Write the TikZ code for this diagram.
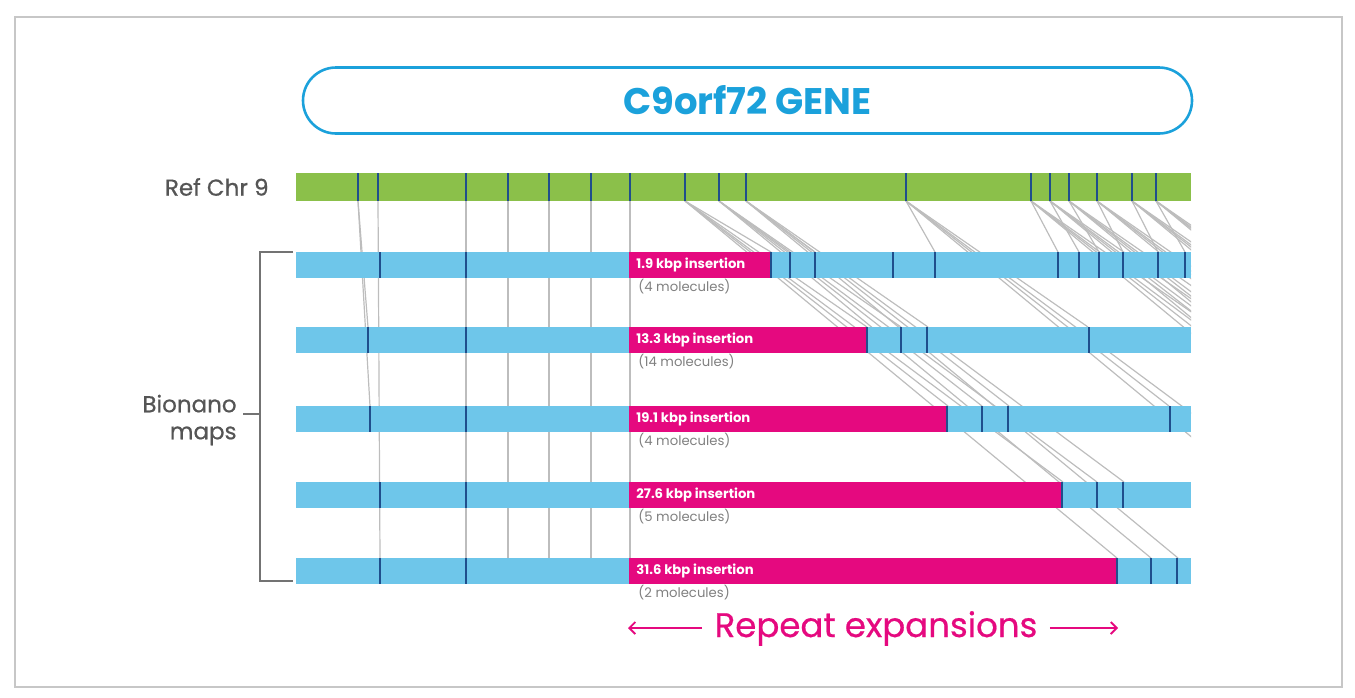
\documentclass[tikz,border=0pt]{standalone}
\usepackage{fontspec}
\setmainfont{Poppins}
\newfontfamily\medfont[FakeBold=0.6]{Poppins}
\usetikzlibrary{arrows.meta}

\definecolor{refgreen}{HTML}{8BC04A}
\definecolor{mapblue}{HTML}{6EC6EA}
\definecolor{tickblue}{HTML}{1F4E8C}
\definecolor{insertpink}{HTML}{E5097F}
\definecolor{titleblue}{HTML}{1BA1DB}
\definecolor{labelgray}{HTML}{555555}
\definecolor{aligngray}{HTML}{BDBDBD}

\tikzset{
    titlebox/.style={draw=titleblue, line width=1.3pt, rounded corners=16.5pt,
        minimum width=444.5pt, minimum height=33pt, text=titleblue,
        font=\bfseries\fontsize{18.5}{20}\selectfont},
    tickmark/.style={draw=tickblue, line width=1pt},
    alignline/.style={draw=aligngray, line width=0.6pt},
    bracket/.style={draw=black!55, line width=0.8pt},
    namelabel/.style={text=labelgray, font=\medfont\fontsize{11.5}{13.5}\selectfont, inner sep=0pt},
    insertlabel/.style={anchor=west, text=white, font=\bfseries\fontsize{6.6}{7}\selectfont, inner sep=0pt},
    countlabel/.style={anchor=west, text=black!50, font=\fontsize{6.6}{7}\selectfont, inner sep=0pt},
    repeatlabel/.style={text=insertpink, font=\medfont\fontsize{17}{20}\selectfont, inner sep=0pt},
    reparrow/.style={draw=insertpink, line width=0.9pt, -{Straight Barb[length=3pt,width=6pt]}},
}

\begin{document}
\begin{tikzpicture}[x=0.5pt, y=-0.5pt]
    \def\refy{173}
    \def\refb{201}
    \def\barh{26}
    \def\mapend{1191}
    \useasboundingbox (0,0) rectangle (1355,697);
    \draw[draw=black!22, line width=1pt] (15,17) rectangle (1342,687);

    % Title
    \node[titlebox] (title) at (747.5,100.5) {C9orf72 GENE};

    % Reference labels as coordinates
    \foreach \x in {358,378,466,508,549,591,630,685,719,746,906,1031,1050,1069,1097,1132,1156} {
        \coordinate (ref-\x) at (\x,\refb);
    }

    % Alignment lines
    \begin{scope}
        \clip (0,0) rectangle (\mapend,697);
        \foreach \x in {466,508,549,591,630} {
            \draw[alignline] (ref-\x) -- (\x,558);
        }
        \draw[alignline] (ref-358) -- (368,327);
        \draw[alignline] (ref-358) -- (370,406);
        \draw[alignline] (ref-378) -- (380,558);
        % first map
        \foreach \a/\b in {685/771,719/790,746/815,906/935,1031/1058,1050/1079,1069/1099,1097/1123,1132/1158,1156/1185} {
            \draw[alignline] (ref-\a) -- (\b,252);
        }
        % other maps, shifted by the insertion
        \foreach \ytop/\off in {327/182,406/263,482/378,558/432} {
            \foreach \a in {685,719,746,906,1031,1050,1069,1097,1132,1156} {
                \draw[alignline] (ref-\a) -- (\a+\off,\ytop);
            }
        }
    \end{scope}

    % Reference map
    \fill[refgreen] (296,\refy) rectangle (\mapend,\refb);
    \foreach \x in {358,378,466,508,549,591,630,685,719,746,906,1031,1050,1069,1097,1132,1156} {
        \draw[tickmark] (\x,\refy) -- (\x,\refb);
    }
    \node[namelabel, anchor=east] (refname) at (269,187) {Ref Chr 9};

    % Bionano maps
    \foreach \i/\ytop/\pend/\kbp/\mol/\ticks in {
        1/252/771/1.9/4/{380,466,771,790,815,893,935,1058,1079,1099,1123,1158,1185},
        2/327/867/13.3/14/{368,466,867,901,927,1089},
        3/406/947/19.1/4/{370,466,947,982,1008,1170},
        4/482/1062/27.6/5/{380,466,1062,1097,1123},
        5/558/1117/31.6/2/{380,466,1117,1151,1177}} {
        \fill[mapblue] (296,\ytop) rectangle (\mapend,\ytop+\barh);
        \fill[insertpink] (629,\ytop) rectangle (\pend,\ytop+\barh);
        \foreach \x in \ticks {
            \draw[tickmark] (\x,\ytop) -- (\x,\ytop+\barh);
        }
        \node[insertlabel] (ins-\i) at (636,\ytop+13) {\kbp\ kbp insertion};
        \node[countlabel] (mol-\i) at (638,\ytop+\barh+9) {(\mol\ molecules)};
    }

    % Bracket
    \coordinate (brace-top) at (293,252);
    \coordinate (brace-bot) at (293,581);
    \coordinate (brace-mid) at (260,414);
    \draw[bracket] (brace-top) -- (260,252) -- (260,581) -- (brace-bot);
    \node[namelabel, anchor=east, align=right] (maps) at (237,420) {Bionano\\maps};
    \draw[bracket] ([xshift=3pt]maps.east |- brace-mid) -- (brace-mid);

    % Repeat expansions
    \node[repeatlabel, anchor=base] (repeat) at (876,637) {Repeat expansions};
    \coordinate (rep-left) at (628,628);
    \coordinate (rep-right) at (1118,628);
    \draw[reparrow] ([xshift=-6pt]repeat.west |- rep-left) -- (rep-left);
    \draw[reparrow] ([xshift=6pt]repeat.east |- rep-right) -- (rep-right);
\end{tikzpicture}
\end{document}
